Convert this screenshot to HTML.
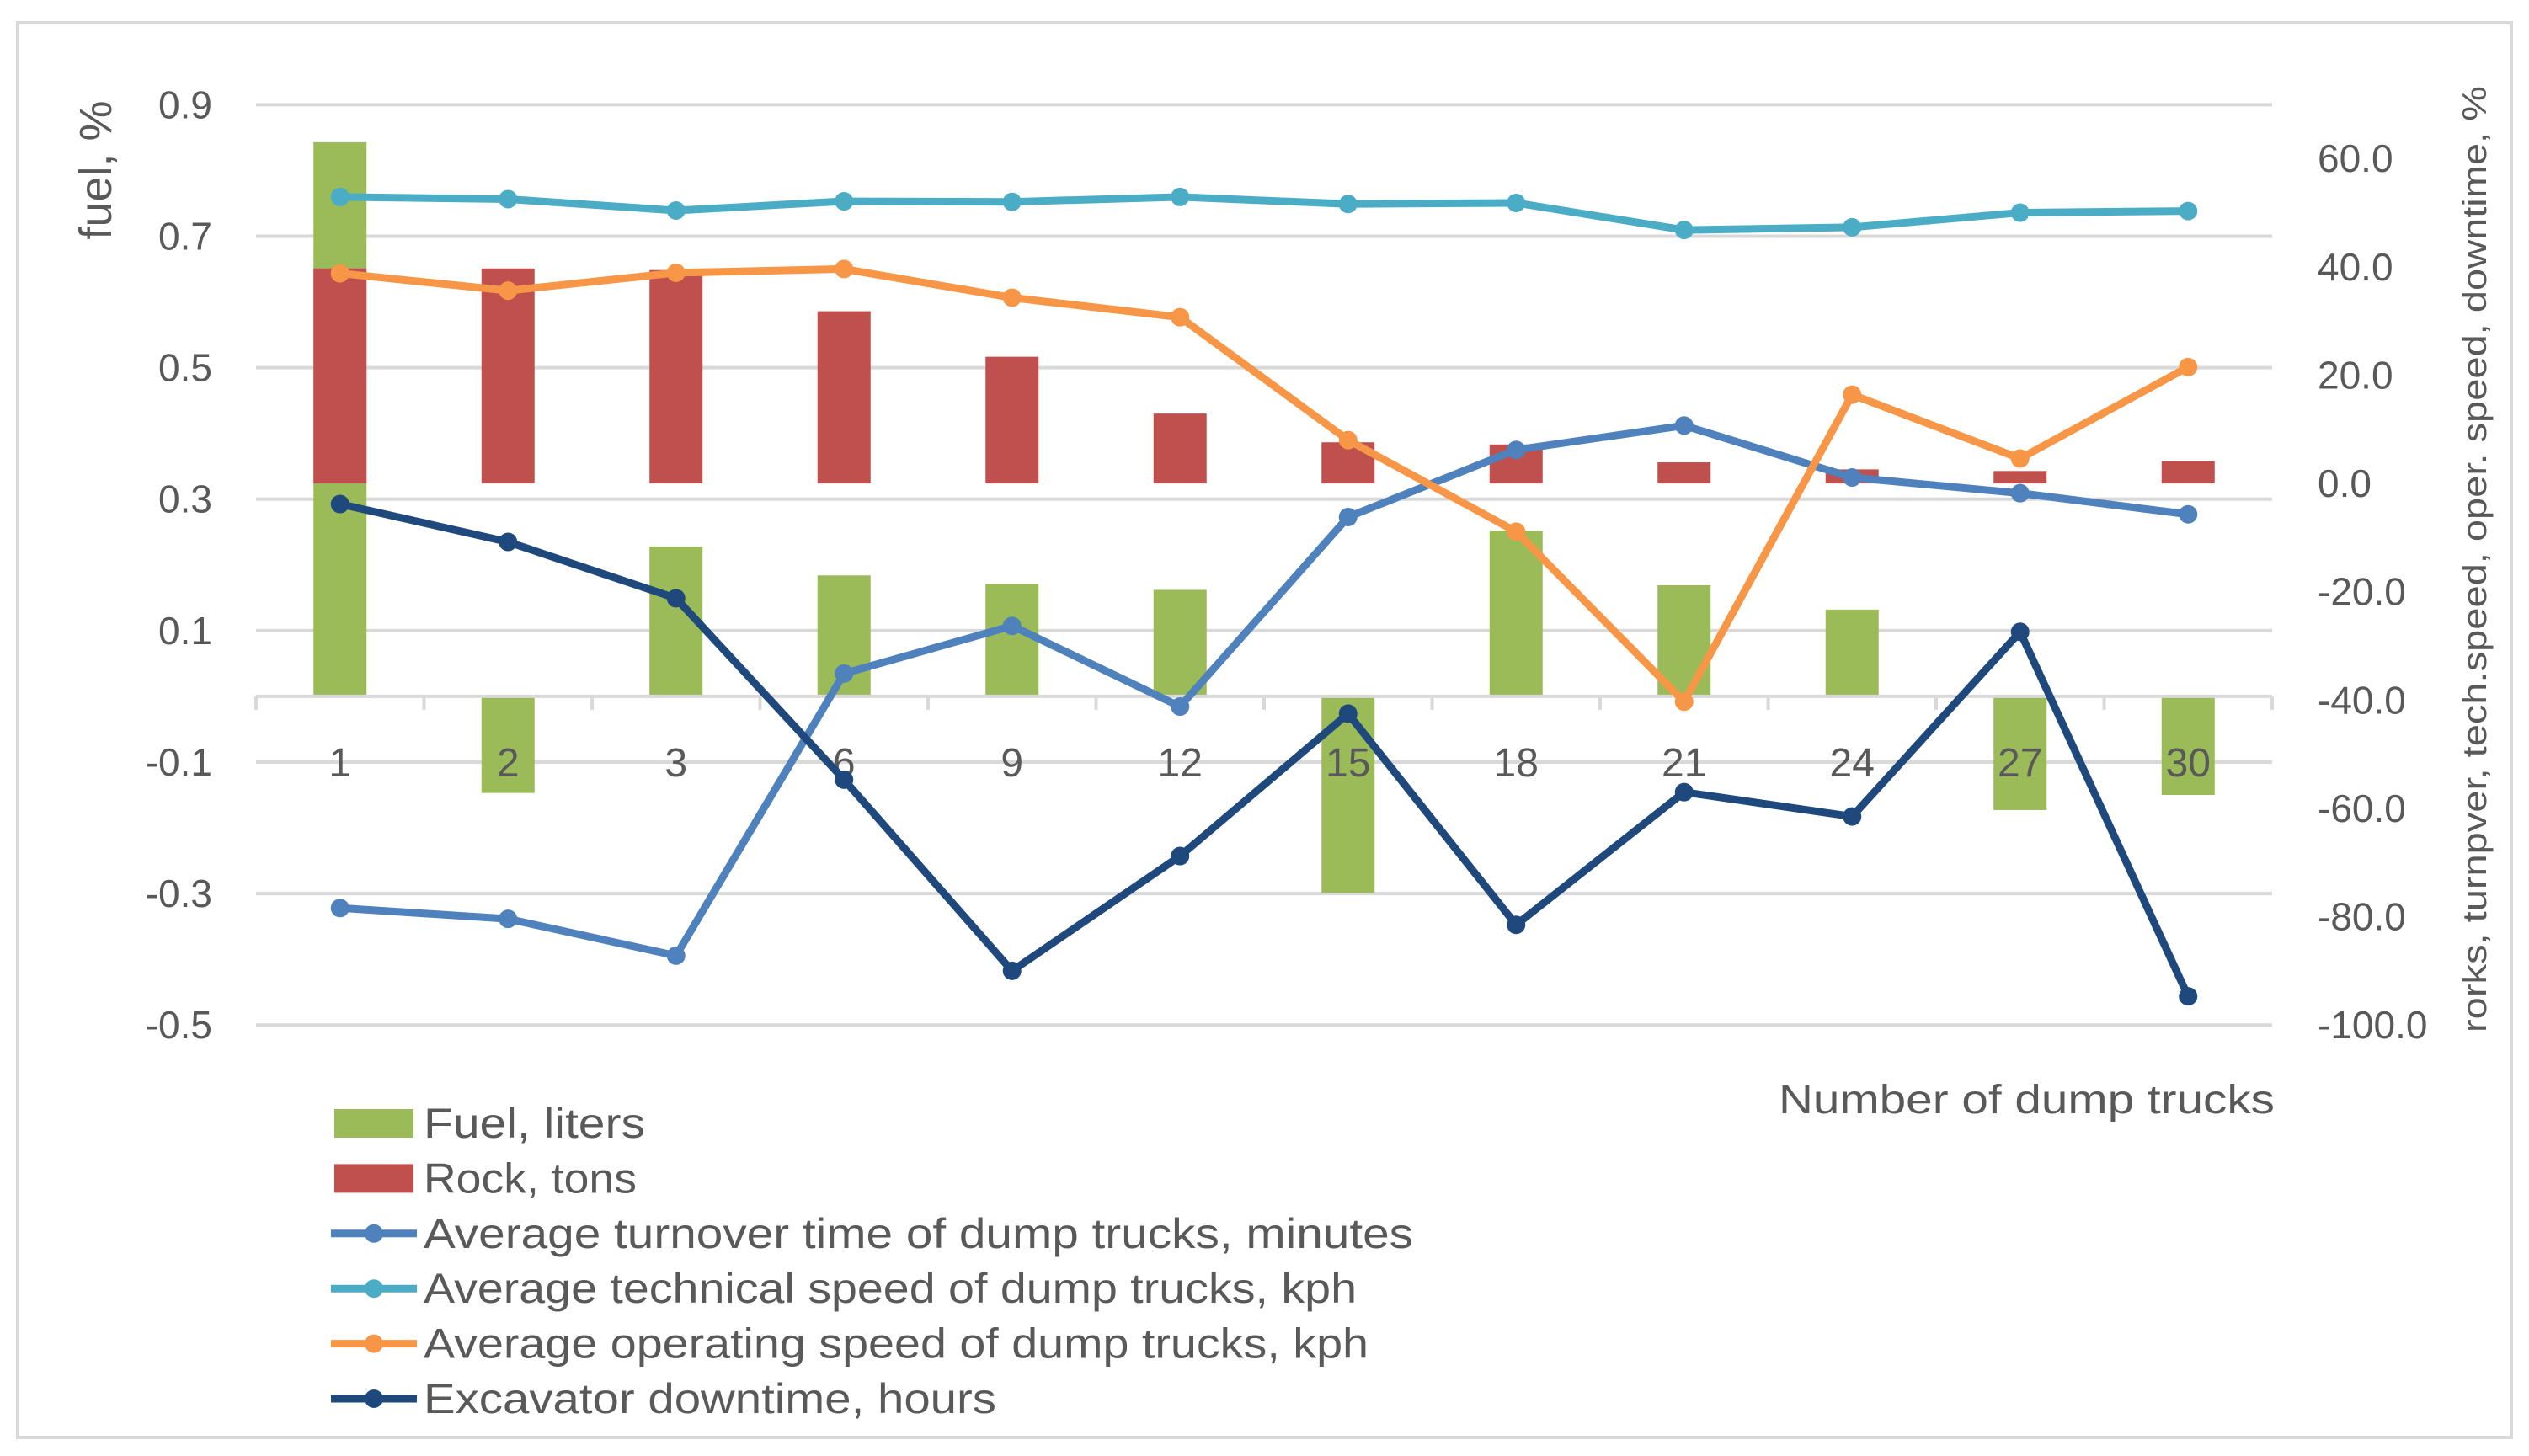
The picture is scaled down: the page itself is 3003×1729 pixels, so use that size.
<!DOCTYPE html>
<html><head><meta charset="utf-8"><style>
html,body{margin:0;padding:0;background:#fff;}
svg text{font-family:"Liberation Sans",sans-serif;fill:#595959;}
</style></head><body>
<svg id="chart" width="3003" height="1724" viewBox="0 0 3003 1724" xmlns="http://www.w3.org/2000/svg">
<rect x="21" y="27" width="2961" height="1680" fill="#fff" stroke="#d9d9d9" stroke-width="4"/>
<g id="grid"></g><g id="bars"></g><g id="axes"></g><g id="lines"></g><g id="legend"></g>
</svg>
<script>
const categories = ["1","2","3","6","9","12","15","18","21","24","27","30"];
const fuel = [0.843,-0.147,0.228,0.184,0.171,0.162,-0.299,0.252,0.169,0.132,-0.173,-0.150];
const rock = [39.7,39.7,39.4,31.8,23.4,12.9,7.6,7.2,3.9,2.6,2.3,4.1];
const turnover = [-78.4,-80.4,-87.2,-35.1,-26.3,-41.2,-6.2,6.2,10.7,1.1,-1.8,-5.7];
const techSpeed = [52.9,52.5,50.4,52.1,52.0,52.9,51.6,51.8,46.8,47.3,50.0,50.3];
const operSpeed = [38.8,35.6,38.9,39.6,34.3,30.7,8.0,-8.9,-40.3,16.4,4.6,21.5];
const downtime = [-3.8,-10.8,-21.2,-54.7,-90.0,-68.8,-42.5,-81.5,-57.0,-61.5,-27.4,-94.7];
const leftTicks = [0.9,0.7,0.5,0.3,0.1,-0.1,-0.3,-0.5];
const rightTicks = [60,40,20,0,-20,-40,-60,-80,-100];

const NS="http://www.w3.org/2000/svg";
const X0=304, X1=2698, band=(X1-X0)/categories.length;
const xC=i=>X0+band*(i+0.5);
const yL=v=>826.9-v*780.6;
const yR=v=>574.1-v*6.431;
function mk(tag,attrs,parent,txt){const e=document.createElementNS(NS,tag);for(const k in attrs)e.setAttribute(k,attrs[k]);if(txt!==undefined)e.textContent=txt;document.getElementById(parent).appendChild(e);return e;}

leftTicks.forEach(t=>{
  const g=mk('line',{x1:X0,x2:X1,y1:yL(t),y2:yL(t),stroke:'#d9d9d9','stroke-width':4},'grid');
  
  
  const l=mk('text',{x:252,y:yL(t)+16,'text-anchor':'end','font-size':46},'axes',t.toFixed(1));
  
  
});
rightTicks.forEach(t=>{
  const l=mk('text',{x:2752,y:yR(t)+16,'font-size':46},'axes',t.toFixed(1));
  
  
});
const bw=63;
fuel.forEach((v,i)=>{
  const y=Math.min(yL(v),yL(0)), h=Math.abs(yL(v)-yL(0));
  const r=mk('rect',{x:xC(i)-bw/2,y:y,width:bw,height:h,fill:'#9bbb59'},'bars');
  
  
});
rock.forEach((v,i)=>{
  const y=Math.min(yR(v),yR(0)), h=Math.abs(yR(v)-yR(0));
  const r=mk('rect',{x:xC(i)-bw/2,y:y,width:bw,height:h,fill:'#c0504d'},'bars');
  
  
});
const ax=mk('line',{x1:X0,x2:X1,y1:yL(0),y2:yL(0),stroke:'#d9d9d9','stroke-width':4},'axes');


for(let i=0;i<=categories.length;i++){
  const t=mk('line',{x1:X0+band*i,x2:X0+band*i,y1:yL(0),y2:yL(0)+16,stroke:'#d9d9d9','stroke-width':4},'axes');
  
  
}
categories.forEach((c,i)=>{
  const l=mk('text',{x:xC(i),y:922,'text-anchor':'middle','font-size':48},'axes',c);
  
  
});
const series=[[turnover,'#4f81bd','turnover-line'],[techSpeed,'#4bacc6','tech-speed-line'],[operSpeed,'#f79646','oper-speed-line'],[downtime,'#1f497d','downtime-line']];
series.forEach(([d,c,n])=>{
  const p=mk('polyline',{points:d.map((v,i)=>xC(i)+','+yR(v)).join(' '),fill:'none',stroke:c,'stroke-width':9,'stroke-linejoin':'round'},'lines');
  
  
  d.forEach((v,i)=>{
    const m=mk('circle',{cx:xC(i),cy:yR(v),r:11,fill:c},'lines');
    
    
  });
});
const lt=mk('text',{x:0,y:0,'font-size':54,transform:'translate(132,202) rotate(-90)','text-anchor':'middle'},'axes','fuel, %');


const rt=mk('text',{x:0,y:0,'font-size':40,transform:'translate(2952,664) rotate(-90)','text-anchor':'middle',textLength:1124,lengthAdjust:'spacingAndGlyphs'},'axes','rorks, turnpver, tech.speed, oper. speed, downtime, %');


const xt=mk('text',{x:2112,y:1322,'font-size':48,textLength:589,lengthAdjust:'spacingAndGlyphs'},'axes','Number of dump trucks');


const legendItems=[['Fuel, liters','#9bbb59','bar',263],['Rock, tons','#c0504d','bar',253],['Average turnover time of dump trucks, minutes','#4f81bd','line',1175],['Average technical speed of dump trucks, kph','#4bacc6','line',1108],['Average operating speed of dump trucks, kph','#f79646','line',1122],['Excavator downtime, hours','#1f497d','line',680]];
legendItems.forEach(([t,c,k,w],i)=>{
  const cy=1334+i*65.4;
  if(k==='bar'){
    const s=mk('rect',{x:397,y:cy-17,width:94,height:34,fill:c},'legend');
    
    
  } else {
    const s=mk('line',{x1:393,x2:495,y1:cy,y2:cy,stroke:c,'stroke-width':9},'legend');
    
    
    const m=mk('circle',{cx:444,cy:cy,r:11,fill:c},'legend');
    
    
  }
  const l=mk('text',{x:503,y:cy+17,'font-size':50,textLength:w,lengthAdjust:'spacingAndGlyphs'},'legend',t);
  
  
});
</script>
</body></html>
